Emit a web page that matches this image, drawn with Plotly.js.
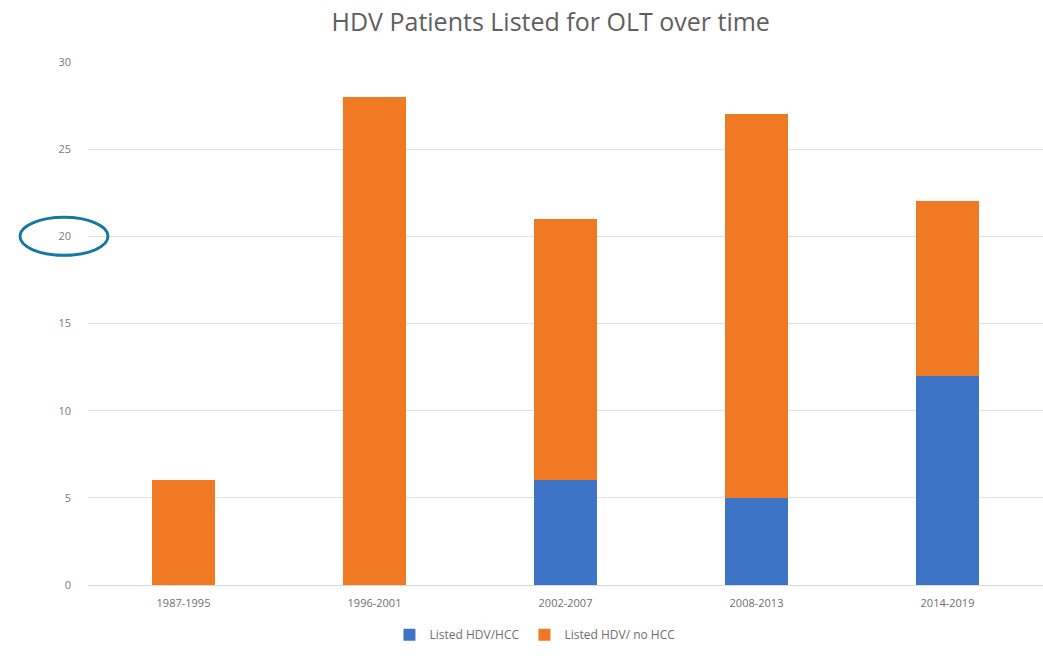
<!DOCTYPE html>
<html><head><meta charset="utf-8">
<script src="https://cdn.plot.ly/plotly-3.0.1.min.js"></script>
<style>html,body{margin:0;padding:0;background:#fff}#chart{width:1043px;height:656px}</style>
</head><body><div id="chart"></div>
<script>
const categories = ["1987-1995","1996-2001","2002-2007","2008-2013","2014-2019"];
const withHCC = [0, 0, 6, 5, 12];
const noHCC = [6, 28, 15, 22, 10];
const seriesNames = ["Listed HDV/HCC", "Listed HDV/ no HCC"];
const yTicks = [0,5,10,15,20,25,30];

const traces = [
  {type:'bar', x:categories, y:withHCC, name:seriesNames[0], marker:{color:'#3d74c6'}},
  {type:'bar', x:categories, y:noHCC, name:seriesNames[1], marker:{color:'#f07a23'}}
];
const layout = {
  width:1043, height:656,
  barmode:'stack', bargap:0.675,
  margin:{l:88, r:0, t:62, b:71},
  paper_bgcolor:'#fff', plot_bgcolor:'#fff',
  font:{family:'Open Sans, sans-serif', color:'#7f7f7f'},
  title:{text:'HDV Patients Listed for OLT over time', font:{size:25, color:'#5f5f5f'}, x:0.528, xanchor:'center', y:0.966, yanchor:'middle'},
  xaxis:{type:'category', showgrid:false, showline:true, linecolor:'#d9d9d9', ticks:'', tickfont:{size:11, color:'#6f6f6f'}, ticklabelstandoff:8},
  yaxis:{range:[0,30], tickvals:yTicks, showgrid:true, gridcolor:'#e3e3e3', zeroline:false, showline:false, tickfont:{size:11, color:'#7a7a7a'}, ticklabelstandoff:16},
  legend:{orientation:'h', x:0.468, xanchor:'center', y:-0.095, yanchor:'middle', font:{size:12, color:'#6f6f6f'}, traceorder:'normal', itemwidth:30},
  showlegend:true,
  shapes:[{type:'circle', xref:'paper', xsizemode:'pixel', xanchor:0, x0:-68, x1:20, yref:'y', ysizemode:'pixel', yanchor:20, y0:-19, y1:19, line:{color:'#14799f', width:3}}]
};
Plotly.newPlot('chart', traces, layout, {displayModeBar:false, staticPlot:true});
</script></body></html>
